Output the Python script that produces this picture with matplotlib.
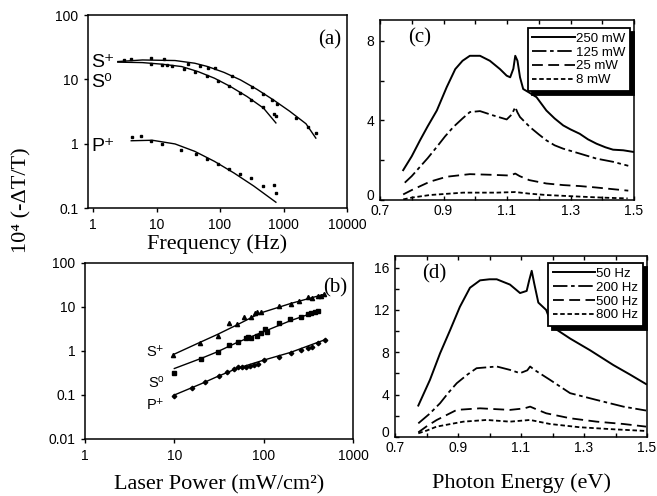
import matplotlib
matplotlib.use("Agg")
import matplotlib.pyplot as plt
from matplotlib.ticker import FixedLocator, FixedFormatter, NullLocator

plt.rcParams['font.family'] = ['Liberation Sans', 'DejaVu Sans']
serif = ['Liberation Serif', 'DejaVu Serif']

# ---- (a) signal vs modulation frequency ----
a_sp_f = [3.1, 4.0, 8.1, 13, 31.6, 48, 64, 82, 157, 319, 484, 650, 795, 1585, 2400, 3230]
a_sp_v = [20.0, 20.8, 21.3, 20.6, 17.4, 16.2, 15.2, 14.9, 11.1, 7.6, 5.9, 4.8, 4.17, 2.5, 1.8, 1.47]
a_s0_f = [8.1, 12.2, 14.6, 17.4, 27.4, 41, 62, 92, 139, 210, 311, 472, 716, 759]
a_s0_v = [17.4, 16.8, 16.6, 16.4, 14.6, 12.8, 11.3, 9.5, 7.9, 6.2, 4.7, 3.7, 2.9, 2.65]
a_pp_f = [4.1, 5.8, 8.1, 12.2, 24.3, 41.5, 62.8, 92, 139, 206, 312, 472, 716, 759]
a_pp_v = [1.27, 1.30, 1.12, 1.0, 0.81, 0.70, 0.58, 0.49, 0.41, 0.34, 0.29, 0.22, 0.23, 0.17]

a_sp_fit_f = [2.46, 6.0, 19.6, 40, 64, 116, 210, 381, 691, 1247, 2260, 3230]
a_sp_fit_v = [18.9, 20.0, 19.6, 17.8, 15.8, 12.8, 9.8, 7.0, 4.8, 3.2, 2.04, 1.22]
a_s0_fit_f = [2.46, 6.0, 12.2, 24.9, 45, 82, 147, 267, 484, 759]
a_s0_fit_v = [18.5, 18.2, 17.2, 15.8, 13.2, 10.4, 7.7, 5.4, 3.57, 2.1]
a_pp_fit_f = [4.0, 8.6, 19.6, 40, 82, 166, 339, 759]
a_pp_fit_v = [1.11, 1.13, 0.99, 0.76, 0.53, 0.35, 0.22, 0.123]

# ---- (b) signal vs laser power ----
b_sp_p = [9.7, 19.6, 30.7, 40.8, 50.6, 60, 71.4, 81, 85, 92.5, 149, 201, 249, 310, 352, 401, 436, 476]
b_sp_v = [0.81, 1.55, 2.2, 4.26, 4.04, 6.0, 6.0, 7.2, 7.6, 7.8, 10.5, 11.7, 13.9, 16.6, 15.7, 17.8, 18.1, 19.4]
b_s0_p = [9.8, 20, 30.7, 40.8, 51.5, 62.8, 66.6, 72.7, 85, 94, 103, 108, 149, 198, 260, 310, 343, 374, 408]
b_s0_v = [0.32, 0.66, 0.93, 1.37, 1.63, 1.94, 2.05, 2.0, 2.19, 2.52, 3.1, 2.75, 4.26, 5.25, 6.0, 6.8, 7.2, 7.7, 8.1]
b_pp_p = [10, 15.8, 22.3, 31.5, 39, 46, 51.5, 57.6, 62.8, 70, 77.8, 86, 101, 149, 201, 260, 310, 352, 401, 484]
b_pp_v = [0.095, 0.142, 0.20, 0.275, 0.34, 0.38, 0.43, 0.43, 0.44, 0.46, 0.48, 0.51, 0.62, 0.74, 0.92, 1.05, 1.15, 1.25, 1.50, 1.78]

b_sp_fit_p = [10, 20, 30, 50, 92, 200, 476]
b_sp_fit_v = [0.85, 1.62, 2.35, 3.9, 7.3, 12.0, 19.4]
b_s0_fit_p = [10, 20, 30, 50, 100, 200, 408]
b_s0_fit_v = [0.40, 0.68, 0.95, 1.55, 2.75, 4.9, 8.1]
b_pp_fit_p = [10, 20, 30, 50, 100, 200, 484]
b_pp_fit_v = [0.10, 0.18, 0.26, 0.40, 0.62, 0.93, 1.8]

# ---- (c) spectra at several laser powers ----
c_labels = ['250 mW', '125 mW', '25 mW', '8 mW']
c_e = [
    [0.773, 0.80, 0.826, 0.85, 0.879, 0.91, 0.937, 0.96, 0.983, 1.015, 1.046, 1.078, 1.099, 1.11,
     1.12, 1.126, 1.133, 1.141, 1.151, 1.17, 1.193, 1.224, 1.25, 1.277, 1.30, 1.329, 1.355, 1.382,
     1.41, 1.434, 1.466, 1.497],
    [0.778, 0.80, 0.826, 0.85, 0.879, 0.905, 0.931, 0.96, 0.983, 1.015, 1.057, 1.099, 1.115, 1.126,
     1.133, 1.141, 1.172, 1.20, 1.224, 1.25, 1.277, 1.33, 1.382, 1.434, 1.482],
    [0.773, 0.80, 0.857, 0.91, 0.983, 1.046, 1.11, 1.126, 1.14, 1.17, 1.224, 1.277, 1.33, 1.38, 1.43, 1.482],
    [0.773, 0.80, 0.857, 0.962, 1.067, 1.126, 1.17, 1.224, 1.33, 1.40, 1.48],
]
c_v = [
    [1.5, 2.2, 3.0, 3.7, 4.5, 5.67, 6.58, 7.0, 7.25, 7.25, 7.0, 6.58, 6.25, 6.17,
     6.6, 7.25, 7.0, 6.17, 5.58, 5.4, 5.17, 4.5, 4.1, 3.75, 3.55, 3.33, 3.05, 2.83,
     2.65, 2.53, 2.5, 2.42],
    [0.87, 1.2, 1.67, 2.1, 2.67, 3.2, 3.67, 4.1, 4.42, 4.47, 4.25, 4.05, 4.3, 4.67,
     4.4, 4.17, 3.67, 3.3, 3.0, 2.75, 2.58, 2.33, 2.08, 1.92, 1.72],
    [0.28, 0.5, 0.92, 1.17, 1.3, 1.27, 1.23, 1.33, 1.2, 1.0, 0.83, 0.75, 0.7, 0.63, 0.55, 0.47],
    [0.03, 0.12, 0.25, 0.37, 0.37, 0.4, 0.32, 0.25, 0.17, 0.12, 0.08],
]

# ---- (d) spectra at several modulation frequencies ----
d_labels = ['50 Hz', '200 Hz', '500 Hz', '800 Hz']
d_e = [
    [0.774, 0.811, 0.843, 0.875, 0.906, 0.938, 0.97, 1.0, 1.023, 1.065, 1.097, 1.118, 1.126, 1.134,
     1.142, 1.155, 1.18, 1.2, 1.256, 1.319, 1.393, 1.446, 1.497],
    [0.774, 0.81, 0.843, 0.87, 0.896, 0.93, 0.959, 1.023, 1.065, 1.097, 1.12, 1.129, 1.14, 1.15,
     1.192, 1.256, 1.34, 1.425, 1.497],
    [0.774, 0.80, 0.832, 0.896, 0.97, 1.065, 1.11, 1.129, 1.15, 1.18, 1.256, 1.34, 1.425, 1.497],
    [0.774, 0.80, 0.832, 0.917, 0.991, 1.065, 1.129, 1.192, 1.287, 1.393, 1.497],
]
d_v = [
    [2.97, 5.4, 7.9, 10.1, 12.3, 14.1, 14.8, 14.9, 14.9, 14.4, 13.6, 13.8, 14.8, 15.7,
     14.5, 12.7, 12.0, 10.4, 9.3, 8.2, 6.8, 5.9, 5.0],
    [1.29, 2.2, 3.19, 4.2, 5.08, 5.9, 6.5, 6.66, 6.34, 6.03, 6.3, 6.66, 6.4, 6.2,
     5.4, 4.14, 3.5, 2.87, 2.5],
    [0.44, 1.0, 1.6, 2.56, 2.71, 2.56, 2.7, 2.87, 2.6, 2.24, 1.77, 1.45, 1.23, 0.98],
    [0.35, 0.6, 0.98, 1.45, 1.61, 1.45, 1.61, 1.23, 0.92, 0.73, 0.57],
]

styles = ['-', (0, (8, 2, 2, 2)), (0, (6, 3)), (0, (2.5, 1.5))]

fig = plt.figure(figsize=(6.57, 4.96), dpi=100)
W, H = 657, 496


def rect(l, t, r, b):
    return [l / W, 1 - b / H, (r - l) / W, (b - t) / H]


ax_a = fig.add_axes(rect(88, 15, 347, 208))
ax_b = fig.add_axes(rect(85, 263, 353, 439))
ax_c = fig.add_axes(rect(380, 20, 634, 200))
ax_d = fig.add_axes(rect(395, 256, 647, 437))

# (a)
ax_a.set_xscale('log')
ax_a.set_yscale('log')
ax_a.plot(a_sp_fit_f, a_sp_fit_v, 'k-', lw=1)
ax_a.plot(a_s0_fit_f, a_s0_fit_v, 'k-', lw=1)
ax_a.plot(a_pp_fit_f, a_pp_fit_v, 'k-', lw=1)
for f, v in [(a_sp_f, a_sp_v), (a_s0_f, a_s0_v), (a_pp_f, a_pp_v)]:
    ax_a.plot(f, v, 'ks', ms=1.8, ls='none')
ax_a.set_xlim(0.834, 10000)
ax_a.set_ylim(0.1, 100)
ax_a.xaxis.set_major_locator(FixedLocator([1, 10, 100, 1000, 10000]))
ax_a.xaxis.set_major_formatter(FixedFormatter(['1', '10', '100', '1000', '10000']))
ax_a.yaxis.set_major_locator(FixedLocator([0.1, 1, 10, 100]))
ax_a.yaxis.set_major_formatter(FixedFormatter(['0.1', '1', '10', '100']))
ax_a.set_xlabel('Frequency (Hz)', family=serif, fontsize=16, labelpad=2)
ax_a.text(0.93, 18, 'S⁺', fontsize=14, va='center', ha='left')
ax_a.text(0.93, 8.8, 'S⁰', fontsize=14, va='center', ha='left')
ax_a.text(0.93, 0.9, 'P⁺', fontsize=14, va='center', ha='left')
ax_a.text(0.935, 0.87, '(a)', transform=ax_a.transAxes, family=serif, fontsize=15,
          ha='center', va='center')

# (b)
ax_b.set_xscale('log')
ax_b.set_yscale('log')
ax_b.plot(b_sp_fit_p, b_sp_fit_v, 'k-', lw=1)
ax_b.plot(b_s0_fit_p, b_s0_fit_v, 'k-', lw=1)
ax_b.plot(b_pp_fit_p, b_pp_fit_v, 'k-', lw=1)
ax_b.plot(b_sp_p, b_sp_v, 'k^', ms=3, ls='none')
ax_b.plot(b_s0_p, b_s0_v, 'ks', ms=2.8, ls='none')
ax_b.plot(b_pp_p, b_pp_v, 'kD', ms=2.3, ls='none')
ax_b.set_xlim(1, 1000)
ax_b.set_ylim(0.01, 100)
ax_b.xaxis.set_major_locator(FixedLocator([1, 10, 100, 1000]))
ax_b.xaxis.set_major_formatter(FixedFormatter(['1', '10', '100', '1000']))
ax_b.yaxis.set_major_locator(FixedLocator([0.01, 0.1, 1, 10, 100]))
ax_b.yaxis.set_major_formatter(FixedFormatter(['0.01', '0.1', '1', '10', '100']))
ax_b.set_xlabel('Laser Power (mW/cm²)', family=serif, fontsize=16, labelpad=9)
ax_b.text(7.6, 0.95, 'S⁺', fontsize=10.5, va='center', ha='right')
ax_b.text(7.6, 0.19, 'S⁰', fontsize=10.5, va='center', ha='right')
ax_b.text(7.8, 0.059, 'P⁺', fontsize=10.5, va='center', ha='right')
ax_b.text(0.935, 0.86, '(b)', transform=ax_b.transAxes, family=serif, fontsize=15,
          ha='center', va='center')

for ax in (ax_a, ax_b):
    ax.xaxis.set_minor_locator(NullLocator())
    ax.yaxis.set_minor_locator(NullLocator())
    ax.tick_params(direction='out', length=3, width=1, labelsize=10, pad=4)
    for s in ax.spines.values():
        s.set_linewidth(1.1)

# (c) and (d)
for ax, es, vs, labels, ymax, yt, txt, lpos in [
        (ax_c, c_e, c_v, c_labels, 9.05, 8, '(c)', (0.984, 0.956)),
        (ax_d, d_e, d_v, d_labels, 17.1, 16, '(d)', (0.984, 0.961))]:
    for e, v, st, lab in zip(es, vs, styles, labels):
        ax.plot(e, v, color='k', ls=st, lw=1.4 if st == '-' else 1.3, label=lab)
    ax.set_xlim(0.7, 1.5)
    ax.set_ylim(0, ymax)
    xt = [0.7, 0.8, 0.9, 1.0, 1.1, 1.2, 1.3, 1.4, 1.5]
    ax.xaxis.set_major_locator(FixedLocator(xt))
    ax.xaxis.set_major_formatter(FixedFormatter(['0.7', '', '0.9', '', '1.1', '', '1.3', '', '1.5']))
    yticks = list(range(0, yt + 1, 2))
    ax.yaxis.set_major_locator(FixedLocator(yticks))
    ax.yaxis.set_major_formatter(FixedFormatter([str(t) if t % 4 == 0 else '' for t in yticks]))
    ax.tick_params(direction='in', length=3, width=1, labelsize=10, top=True)
    ax.tick_params(axis='x', pad=3)
    ax.tick_params(axis='y', pad=4)
    # keep the "0" label sitting on the axis line, above the 0.7 label
    ax.yaxis.get_major_ticks()[0].label1.set_verticalalignment('baseline')
    for s in ax.spines.values():
        s.set_linewidth(1.1)
    ax.text(0.155, 0.9, txt, transform=ax.transAxes, family=serif, fontsize=15,
            ha='center', va='center')
    leg = ax.legend(loc='upper right', bbox_to_anchor=lpos, borderaxespad=0, fontsize=9.5,
                    handlelength=3.2, handletextpad=0.1, labelspacing=0.12, borderpad=0.35,
                    fancybox=False, framealpha=1, edgecolor='k',
                    shadow={'color': 'black', 'alpha': 1, 'ox': 3, 'oy': -3})
    leg.get_frame().set_linewidth(1.3)

ax_d.set_xlabel('Photon Energy (eV)', family=serif, fontsize=16, labelpad=13)

fig.text(0.033, 1 - 200 / H, '10⁴ (-ΔT/T)', rotation=90, family=serif, fontsize=16,
         ha='center', va='center')

fig.savefig('out.png', dpi=100)
